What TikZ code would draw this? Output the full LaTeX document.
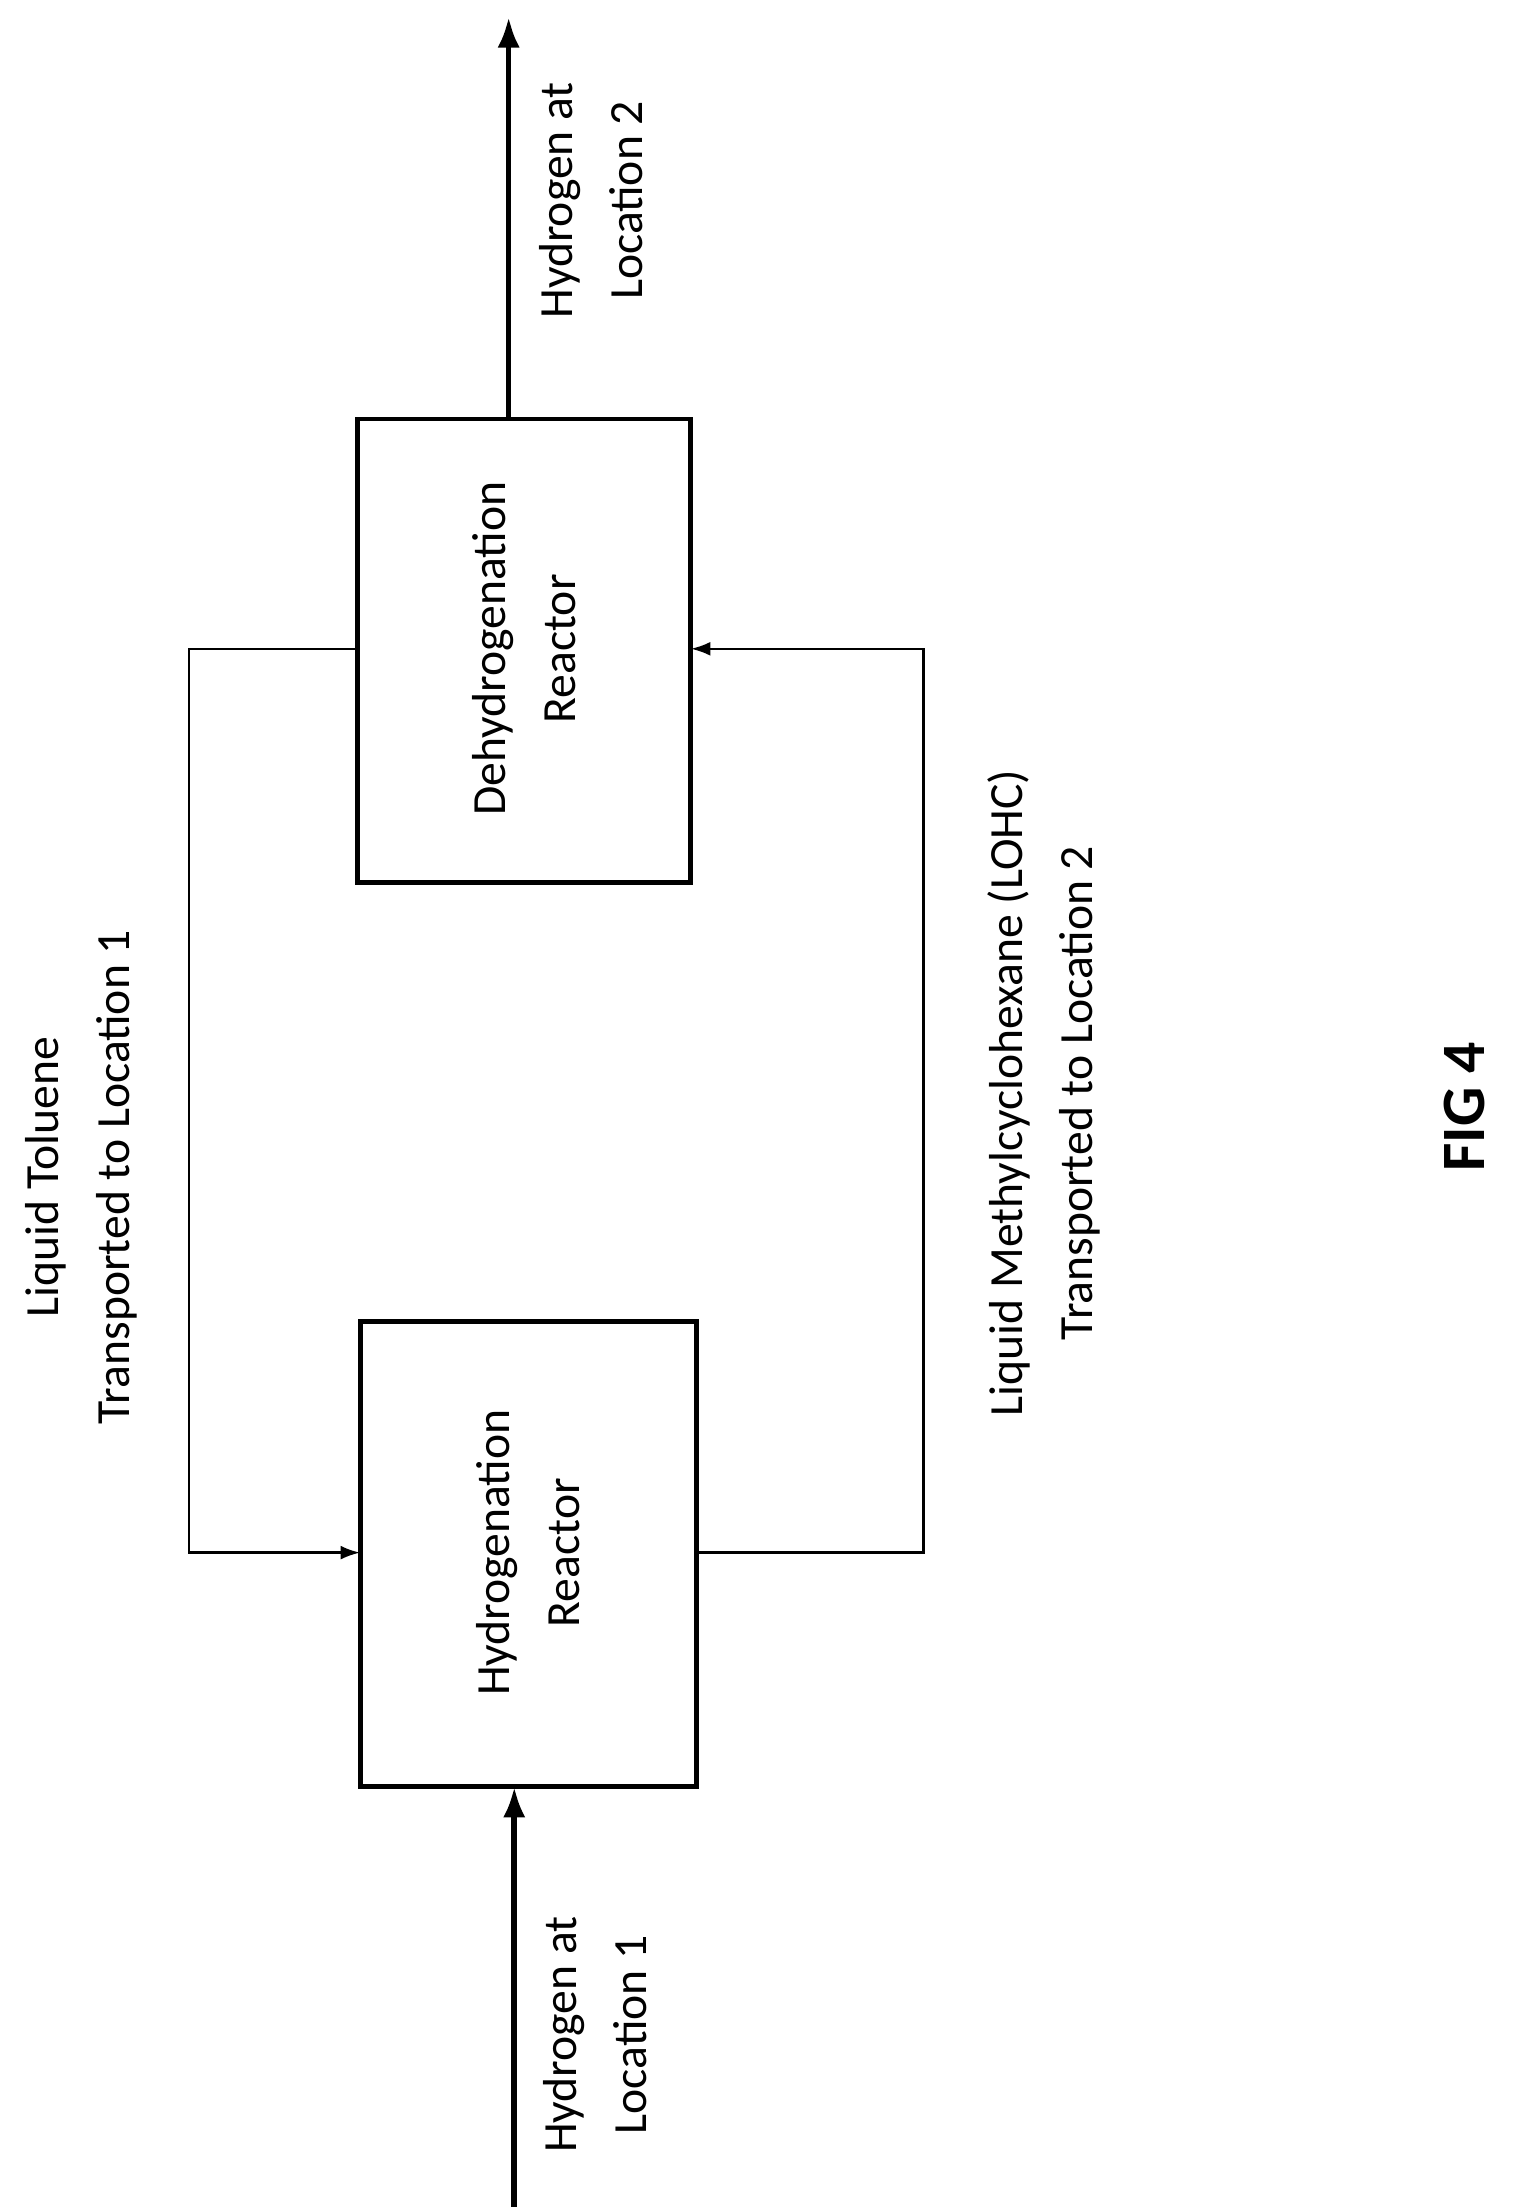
\documentclass[tikz,border=0pt]{standalone}
\usepackage{fontspec}
\setmainfont{Carlito}
\usetikzlibrary{arrows.meta}
\begin{document}
\begin{tikzpicture}[x=1pt,y=-1pt,
  box/.style={draw,line width=3.5pt},
  lbl/.style={rotate=90,align=center,font=\fontsize{34}{50}\selectfont},
  thin/.style={line width=1.8pt,-{Latex[length=14pt,width=10pt]}},
  thick/.style={line width=4pt,-{Latex[length=22pt,width=16pt]}}]
\useasboundingbox (0,0) rectangle (1080,1575);
\draw[box] (257,943) rectangle (497,1275);
\draw[box] (255,299) rectangle (493,630);
\node[lbl] (hyd) at (377,1108) {Hydrogenation\\Reactor};
\node[lbl] (dehyd) at (374,463) {Dehydrogenation\\Reactor};
\coordinate (hb) at (367,1275);
\coordinate (hs) at (367,1575);
\coordinate (dt) at (363,299);
\coordinate (de) at (363,12);
\draw[thick] (hs) -- (hb);
\draw[thick] (dt) -- (de);
\coordinate (dl) at (255,463);
\coordinate (hl) at (257,1108);
\coordinate (hr) at (497,1108);
\coordinate (dr) at (493,463);
\draw[thin] (dl) -- (135,463) -- (135,1108) -- (hl);
\draw[thin] (hr) -- (659,1108) -- (659,463) -- (dr);
\node[lbl] (t1) at (425,1452) {Hydrogen at\\Location 1};
\node[lbl] (t2) at (422,143) {Hydrogen at\\Location 2};
\node[lbl] (t3) at (58,840) {Liquid Toluene\\Transported to Location 1};
\node[lbl] (t4) at (745,780) {Liquid Methylcyclohexane (LOHC)\\Transported to Location 2};
\node[rotate=90,font=\fontsize{44}{50}\selectfont\bfseries] (fig) at (1045,790) {FIG 4};
\end{tikzpicture}
\end{document}
